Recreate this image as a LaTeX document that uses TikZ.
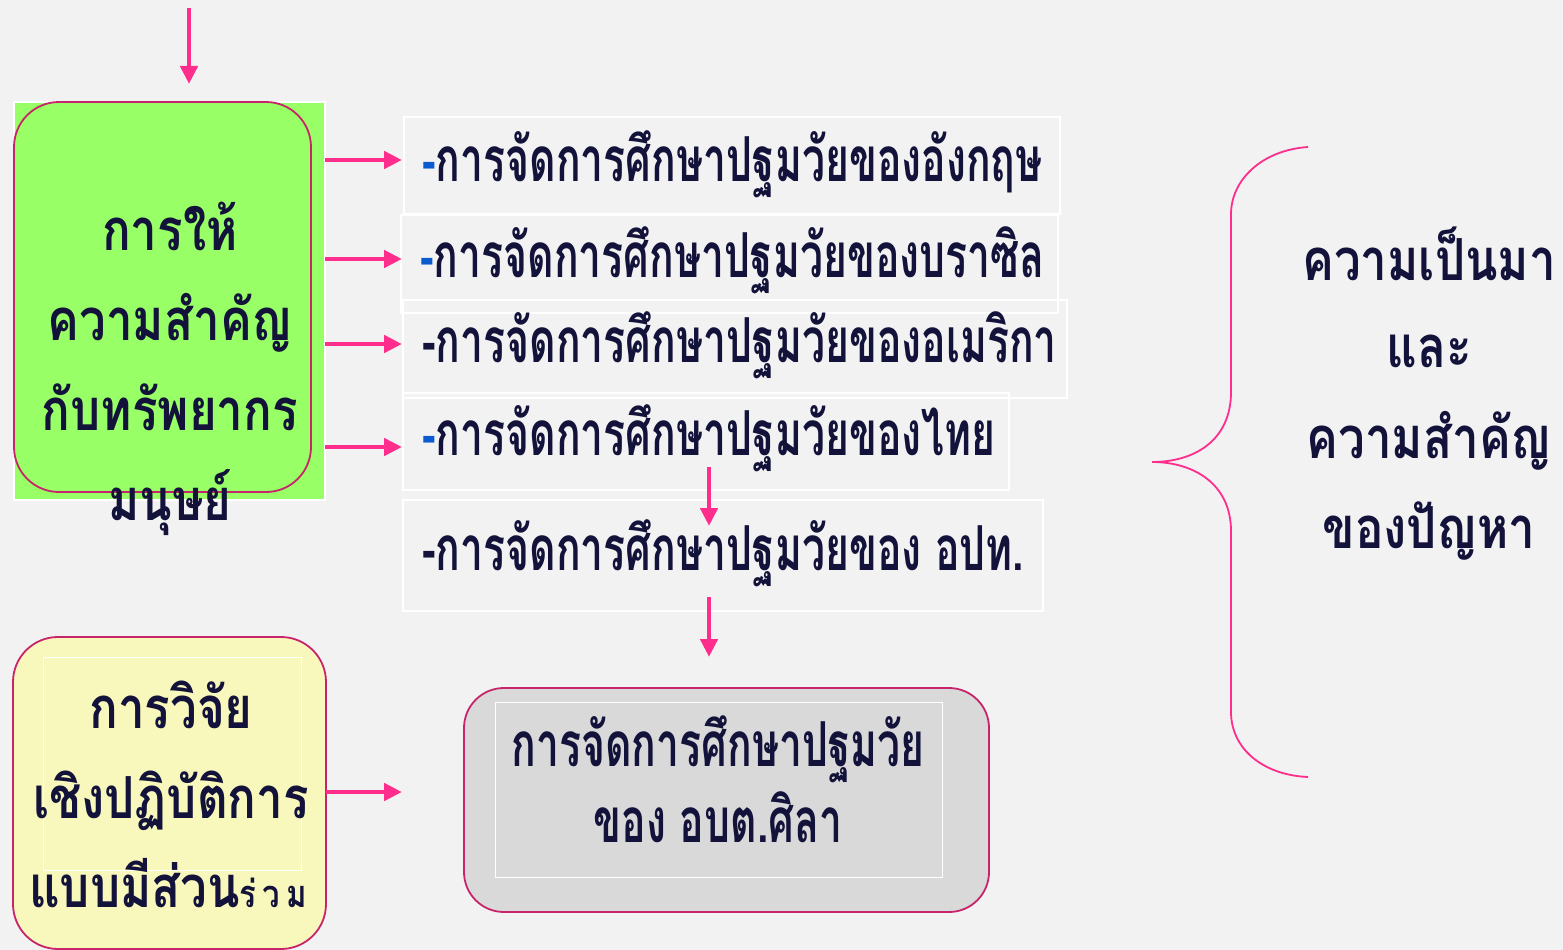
\documentclass[tikz,border=0pt]{standalone}
\usepackage{fontspec}
\usetikzlibrary{arrows.meta}
\newfontfamily\thai[Script=Thai,FakeStretch=0.82]{Loma}
\newfontfamily\thaic[Script=Thai,FakeStretch=0.66]{Loma}
\definecolor{bg}{HTML}{F2F2F2}
\definecolor{ink}{HTML}{12123A}
\definecolor{pinkarr}{HTML}{FF2D8C}
\definecolor{crim}{HTML}{C8246C}
\definecolor{dashblue}{HTML}{0A5BD0}
\definecolor{grn}{HTML}{99FF66}
\definecolor{yel}{HTML}{F8F8BC}
\definecolor{gry}{HTML}{D9D9D9}
\begin{document}
\begin{tikzpicture}[x=1pt,y=-1pt,
 arr/.style={pinkarr, line width=4.5pt, -{Triangle[length=18pt,width=17pt]}},
 whitebox/.style={draw=white, line width=1.5pt, anchor=north west, inner sep=0pt, outer sep=0pt},
 rbox/.style={draw=crim, line width=1.8pt, rounded corners=45pt, anchor=north west, inner sep=0pt, outer sep=0pt},
 ltext/.style={text=ink, anchor=base west, inner sep=0pt, font=\thaic\bfseries\fontsize{62}{62}\selectfont},
 btext/.style={text=ink, anchor=base, inner sep=0pt, font=\thai\bfseries\fontsize{58}{58}\selectfont},
]
\fill[bg] (0,0) rectangle (1563,950);
\useasboundingbox (0,0) rectangle (1563,950);

% green box
\node[whitebox, fill=grn, minimum width=311pt, minimum height=398pt] (gbg) at (14,102) {};
\node[rbox, fill=grn, minimum width=297pt, minimum height=390pt] (gbox) at (14,102) {};
\node[btext] (g1) at (170,250) {การให้};
\node[btext] (g2) at (170,340) {ความสำคัญ};
\node[btext] (g3) at (170,430) {กับทรัพยากร};
\node[btext] (g4) at (170,520) {มนุษย์};

% top arrow
\coordinate (topin) at (189,8);
\coordinate (topend) at (189,84);
\draw[arr] (topin) -- (topend);

% list boxes
\node[whitebox, minimum width=656pt, minimum height=97pt] (l1) at (404,117) {};
\node[whitebox, minimum width=657pt, minimum height=98pt] (l2) at (401,215) {};
\node[whitebox, minimum width=664pt, minimum height=98pt] (l3) at (403,300) {};
\node[whitebox, minimum width=606pt, minimum height=97pt] (l4) at (403,393) {};
\node[whitebox, minimum width=640pt, minimum height=111pt] (l5) at (403,500) {};
\node[ltext] (t1) at (422,181) {{\color{dashblue}-}การจัดการศึกษาปฐมวัยของอังกฤษ};
\node[ltext] (t2) at (420,277) {{\color{dashblue}-}การจัดการศึกษาปฐมวัยของบราซิล};
\node[ltext] (t3) at (422,362) {-การจัดการศึกษาปฐมวัยของอเมริกา};
\node[ltext] (t4) at (422,455) {{\color{dashblue}-}การจัดการศึกษาปฐมวัยของไทย};
\node[ltext] (t5) at (422,570) {-การจัดการศึกษาปฐมวัยของ อปท.};

% right arrows
\coordinate (a1) at (402,160);
\coordinate (a2) at (402,259);
\coordinate (a3) at (402,344);
\coordinate (a4) at (402,447);
\draw[arr] (gbg.east |- a1) -- (a1);
\draw[arr] (gbg.east |- a2) -- (a2);
\draw[arr] (gbg.east |- a3) -- (a3);
\draw[arr] (gbg.east |- a4) -- (a4);

% down arrows
\coordinate (d1s) at (709,467);
\coordinate (d1e) at (709,526);
\coordinate (d2s) at (709,597);
\coordinate (d2e) at (709,657);
\draw[arr] (d1s) -- (d1e);
\draw[arr] (d2s) -- (d2e);

% yellow box
\node[rbox, fill=yel, minimum width=313pt, minimum height=312pt] (ybox) at (13,637) {};
\node[whitebox, line width=1pt, minimum width=258pt, minimum height=213pt] (yin) at (43,657) {};
\node[btext] (y1) at (171,728) {การวิจัย};
\node[btext] (y2) at (171,818) {เชิงปฏิบัติการ};
\node[btext] (y3) at (168,907) {แบบมีส่วน{\fontsize{38}{38}\selectfont ร่\hspace{6pt}ว\hspace{6pt}ม}};
\coordinate (a5) at (402,792);
\draw[arr] (ybox.east |- a5) -- (a5);

% gray box
\node[rbox, fill=gry, rounded corners=40pt, minimum width=525pt, minimum height=224pt] (gb) at (464,688) {};
\node[whitebox, line width=1pt, minimum width=447pt, minimum height=175pt] (gin) at (495,702) {};
\node[ltext, anchor=base] (r1) at (718,766) {การจัดการศึกษาปฐมวัย};
\node[ltext, anchor=base] (r2) at (718,842) {ของ อบต.ศิลา};

% brace
\draw[pinkarr, line width=1.8pt] (1308,147) .. controls (1262,150) and (1231,180) .. (1231,214) -- (1231,392)
  .. controls (1231,440) and (1195,462) .. (1152,462)
  .. controls (1195,462) and (1231,485) .. (1231,531) -- (1231,712)
  .. controls (1231,748) and (1262,775) .. (1308,777);

% right text
\node[btext] (h1) at (1429,280) {ความเป็นมา};
\node[btext] (h2) at (1429,367) {และ};
\node[btext] (h3) at (1429,458) {ความสำคัญ};
\node[btext] (h4) at (1429,548) {ของปัญหา};
\end{tikzpicture}
\end{document}
